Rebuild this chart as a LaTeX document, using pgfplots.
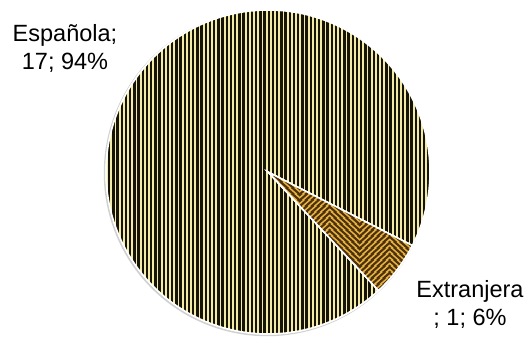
\documentclass[border=0pt]{standalone}
\usepackage{pgfplots}
\pgfplotsset{compat=1.18}
\usepackage{pgfplotstable}
\usepackage{fontspec}
\setmainfont{Liberation Sans}
\usetikzlibrary{patterns,patterns.meta}
\definecolor{stripeY}{HTML}{F3EBA4}
\definecolor{stripeK}{HTML}{15130A}
\definecolor{zzGold}{HTML}{E8B63E}
\definecolor{zzBrown}{HTML}{4D3010}
\pgfdeclarepatternformonly{zigzag}{\pgfpointorigin}{\pgfpoint{60bp}{6bp}}{\pgfpoint{60bp}{6bp}}{%
  \pgfsetlinewidth{2.3bp}%
  \foreach \k in {-7,...,1}{%
    \pgfpathmoveto{\pgfpoint{-3bp}{6*\k bp - 3bp}}%
    \pgfpathlineto{\pgfpoint{30bp}{6*\k bp + 30bp}}%
    \pgfpathlineto{\pgfpoint{63bp}{6*\k bp - 3bp}}%
    \pgfusepath{stroke}%
  }%
}
\pgfplotstableread{
label value
Espanola 17
Extranjera 1
}\piedata
\pgfplotstablegetelem{0}{value}\of\piedata\let\vA\pgfplotsretval
\pgfplotstablegetelem{1}{value}\of\piedata\let\vB\pgfplotsretval
\pgfmathsetmacro{\tot}{\vA+\vB}
\pgfmathsetmacro{\aS}{-27}
\pgfmathsetmacro{\aM}{\aS+360*\vA/\tot}
\pgfmathsetmacro{\aE}{\aS+360}
\def\cx{268}\def\cy{166}\def\R{162}
\begin{document}
\begin{tikzpicture}
\begin{axis}[width=529bp,height=338bp,scale only axis,
  xmin=0,xmax=529,ymin=0,ymax=338,hide axis,clip=false]
\path (axis cs:0,0) rectangle (axis cs:529,338);
% soft shadow ring
\addplot[draw=black!18,line width=2.5bp,domain=0:360,samples=150]
  ({\cx-1+\R*cos(x)},{\cy-1+\R*sin(x)});
% Espanola
\addplot[draw=white,line width=1.5bp,fill=stripeY,
  postaction={pattern={Lines[angle=90,distance=4.2bp,line width=2.3bp]},pattern color=stripeK},
  domain=\aS:\aM,samples=150]
  ({\cx+\R*cos(x)},{\cy+\R*sin(x)}) -- (axis cs:\cx,\cy) -- cycle;
% Extranjera
\addplot[draw=white,line width=1.5bp,fill=zzGold,
  postaction={pattern=zigzag,pattern color=zzBrown},
  domain=\aM:\aE,samples=30]
  ({\cx+\R*cos(x)},{\cy+\R*sin(x)}) -- (axis cs:\cx,\cy) -- cycle;
\node[anchor=base,font=\fontsize{23.5bp}{28bp}\selectfont] at (axis cs:65,296) {Española;};
\node[anchor=base,font=\fontsize{23.5bp}{28bp}\selectfont] at (axis cs:65,268) {17; 94\%};
\node[anchor=base,font=\fontsize{23.5bp}{28bp}\selectfont] at (axis cs:470,40) {Extranjera};
\node[anchor=base,font=\fontsize{23.5bp}{28bp}\selectfont] at (axis cs:470,13) {; 1; 6\%};
\end{axis}
\end{tikzpicture}
\end{document}
